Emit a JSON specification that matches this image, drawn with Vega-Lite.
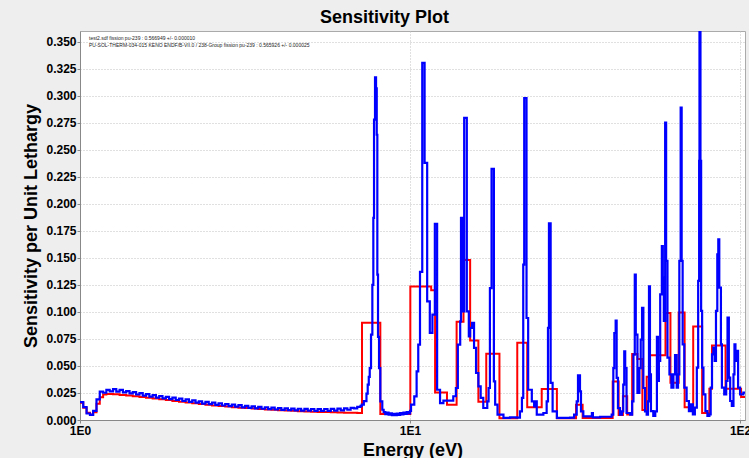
{
  "$schema": "https://vega.github.io/schema/vega-lite/v6.json",
  "autosize": {"type": "none"},
  "padding": {"left": 80, "top": 31, "right": 4, "bottom": 38},
  "width": 665,
  "height": 389,
  "background": "#eeeeee",
  "title": {"text": "Sensitivity Plot", "fontSize": 18, "font": "Liberation Sans", "fontWeight": "bold", "anchor": "middle", "offset": 4, "dx": -28, "color": "black"},
  "config": {
    "view": {"fill": "white", "stroke": "#aaaaaa", "strokeWidth": 1},
    "axis": {"labelFont": "Liberation Sans", "titleFont": "Liberation Sans", "labelFontWeight": "bold", "titleFontWeight": "bold", "labelFontSize": 12, "titleFontSize": 18, "labelColor": "black", "titleColor": "black", "gridColor": "#c0c0c0", "gridDash": [1, 2], "gridWidth": 1, "domainColor": "#888888", "tickColor": "#888888", "tickSize": 3},
    "legend": {"orient": "top-left", "offset": 4, "padding": 0, "labelFont": "Liberation Sans", "labelFontSize": 5, "labelColor": "#222222", "labelLimit": 500, "symbolSize": 0, "symbolStrokeWidth": 0, "labelOffset": 0, "rowPadding": 1.5, "title": null}
  },
  "datasets": {
    "blue": [
      {"e":1.000,"v":0.0165},{"e":1.023,"v":0.0120},{"e":1.047,"v":0.0060},{"e":1.072,"v":0.0048},{"e":1.096,"v":0.0085},{"e":1.122,"v":0.0190},{"e":1.148,"v":0.0262},{"e":1.175,"v":0.0252},{"e":1.202,"v":0.0278},{"e":1.230,"v":0.0265},{"e":1.259,"v":0.0285},{"e":1.288,"v":0.0262},{"e":1.318,"v":0.0278},{"e":1.349,"v":0.0255},{"e":1.380,"v":0.0268},{"e":1.413,"v":0.0246},{"e":1.445,"v":0.0258},{"e":1.479,"v":0.0236},{"e":1.514,"v":0.0248},{"e":1.549,"v":0.0226},{"e":1.585,"v":0.0240},{"e":1.622,"v":0.0216},{"e":1.660,"v":0.0230},{"e":1.698,"v":0.0207},{"e":1.738,"v":0.0222},{"e":1.778,"v":0.0200},{"e":1.820,"v":0.0214},{"e":1.862,"v":0.0193},{"e":1.905,"v":0.0207},{"e":1.950,"v":0.0185},{"e":1.995,"v":0.0198},{"e":2.042,"v":0.0176},{"e":2.089,"v":0.0190},{"e":2.138,"v":0.0168},{"e":2.188,"v":0.0181},{"e":2.239,"v":0.0160},{"e":2.291,"v":0.0173},{"e":2.344,"v":0.0152},{"e":2.399,"v":0.0167},{"e":2.455,"v":0.0147},{"e":2.512,"v":0.0160},{"e":2.570,"v":0.0140},{"e":2.630,"v":0.0154},{"e":2.692,"v":0.0134},{"e":2.754,"v":0.0148},{"e":2.818,"v":0.0128},{"e":2.884,"v":0.0142},{"e":2.951,"v":0.0123},{"e":3.020,"v":0.0137},{"e":3.090,"v":0.0117},{"e":3.162,"v":0.0131},{"e":3.236,"v":0.0113},{"e":3.311,"v":0.0126},{"e":3.388,"v":0.0108},{"e":3.467,"v":0.0122},{"e":3.548,"v":0.0104},{"e":3.631,"v":0.0118},{"e":3.715,"v":0.0100},{"e":3.802,"v":0.0114},{"e":3.890,"v":0.0097},{"e":3.981,"v":0.0111},{"e":4.074,"v":0.0094},{"e":4.169,"v":0.0108},{"e":4.266,"v":0.0091},{"e":4.365,"v":0.0106},{"e":4.467,"v":0.0089},{"e":4.571,"v":0.0104},{"e":4.677,"v":0.0087},{"e":4.786,"v":0.0103},{"e":4.898,"v":0.0086},{"e":5.012,"v":0.0102},{"e":5.129,"v":0.0085},{"e":5.248,"v":0.0101},{"e":5.370,"v":0.0084},{"e":5.495,"v":0.0102},{"e":5.623,"v":0.0085},{"e":5.754,"v":0.0103},{"e":5.888,"v":0.0086},{"e":6.026,"v":0.0105},{"e":6.166,"v":0.0090},{"e":6.310,"v":0.0108},{"e":6.457,"v":0.0095},{"e":6.607,"v":0.0112},{"e":6.761,"v":0.0108},{"e":6.918,"v":0.0122},{"e":7.079,"v":0.0130},
      {"e":7.14,"v":0.0142},{"e":7.244,"v":0.0175},{"e":7.379,"v":0.0245},{"e":7.443,"v":0.0327},{"e":7.499,"v":0.040},{"e":7.549,"v":0.048},{"e":7.617,"v":0.079},{"e":7.688,"v":0.125},{"e":7.741,"v":0.187},{"e":7.779,"v":0.278},{"e":7.833,"v":0.317},{"e":7.889,"v":0.307},{"e":7.927,"v":0.264},{"e":7.960,"v":0.1345},{"e":7.998,"v":0.077},{"e":8.055,"v":0.048},{"e":8.128,"v":0.0172},{"e":8.241,"v":0.0095},
      {"e":8.318,"v":0.0072},{"e":8.414,"v":0.0055},{"e":8.511,"v":0.0068},{"e":8.610,"v":0.0050},{"e":8.710,"v":0.0062},{"e":8.810,"v":0.0046},{"e":8.913,"v":0.0058},{"e":9.016,"v":0.0044},{"e":9.120,"v":0.0060},{"e":9.226,"v":0.0048},{"e":9.333,"v":0.0064},{"e":9.441,"v":0.0052},{"e":9.550,"v":0.0068},{"e":9.661,"v":0.0056},{"e":9.772,"v":0.0074},{"e":9.886,"v":0.0062},{"e":10.0,"v":0.0085},
      {"e":10.07,"v":0.0142},{"e":10.30,"v":0.0219},{"e":10.47,"v":0.045},{"e":10.59,"v":0.0697},{"e":10.72,"v":0.137},{"e":10.89,"v":0.3305},{"e":11.07,"v":0.238},{"e":11.27,"v":0.1098},{"e":11.48,"v":0.0806},{"e":11.69,"v":0.0975},{"e":11.89,"v":0.1815},{"e":12.08,"v":0.028},{"e":12.33,"v":0.0157},{"e":12.62,"v":0.0179},{"e":13.06,"v":0.018},{"e":13.52,"v":0.022},
      {"e":13.77,"v":0.0296},{"e":13.96,"v":0.0697},{"e":14.19,"v":0.0913},{"e":14.27,"v":0.187},{"e":14.45,"v":0.1006},{"e":14.59,"v":0.2796},{"e":14.86,"v":0.1006},{"e":15.07,"v":0.0774},{"e":15.21,"v":0.0852},{"e":15.42,"v":0.0898},{"e":15.63,"v":0.0667},{"e":15.85,"v":0.0435},{"e":16.11,"v":0.0311},{"e":16.37,"v":0.0204},{"e":16.67,"v":0.0111},{"e":17.14,"v":0.0172},{"e":17.30,"v":0.0296},{"e":17.46,"v":0.122},{"e":17.66,"v":0.2324},{"e":17.95,"v":0.0357},{"e":18.11,"v":0.0142},{"e":18.41,"v":0.0049},{"e":19.19,"v":0.0019},{"e":20.09,"v":0.0024},{"e":21.04,"v":0.0022},{"e":21.53,"v":0.008},{"e":21.83,"v":0.0204},{"e":22.03,"v":0.1438},{"e":22.18,"v":0.298},{"e":22.54,"v":0.0944},{"e":22.80,"v":0.028},{"e":23.39,"v":0.0172},{"e":23.77,"v":0.0126},{"e":23.99,"v":0.0172},{"e":24.21,"v":0.0049},{"e":25.35,"v":0.0065},{"e":25.94,"v":0.0172},{"e":26.18,"v":0.0852},{"e":26.36,"v":0.182},{"e":26.67,"v":0.0343},{"e":27.04,"v":0.008},{"e":27.86,"v":0.0019},{"e":30.55,"v":0.0022},{"e":31.41,"v":0.0049},{"e":31.99,"v":0.0172},{"e":32.28,"v":0.0413},{"e":32.73,"v":0.0265},{"e":32.96,"v":0.008},{"e":33.50,"v":0.0034},{"e":35.56,"v":0.0065},{"e":35.81,"v":0.0024},{"e":37.67,"v":0.003},{"e":40.83,"v":0.0049},{"e":41.30,"v":0.048},{"e":41.59,"v":0.0805},{"e":41.98,"v":0.092},{"e":42.27,"v":0.0389},{"e":42.66,"v":0.011},{"e":43.25,"v":0.0049},{"e":43.85,"v":0.008},{"e":44.26,"v":0.0327},{"e":44.57,"v":0.0635},{"e":44.87,"v":0.048},{"e":45.29,"v":0.0065},{"e":46.45,"v":0.0049},{"e":47.10,"v":0.0172},{"e":47.53,"v":0.0605},{"e":47.97,"v":0.1345},{"e":48.31,"v":0.079},{"e":48.87,"v":0.025},{"e":49.55,"v":0.048},{"e":50.00,"v":0.0743},{"e":50.47,"v":0.1037},{"e":50.93,"v":0.0296},{"e":51.52,"v":0.008},{"e":52.12,"v":0.0049},{"e":52.60,"v":0.0172},{"e":52.97,"v":0.1237},{"e":53.33,"v":0.0422},{"e":53.70,"v":0.0083},{"e":54.58,"v":0.0037},{"e":55.34,"v":0.008},{"e":55.98,"v":0.077},{"e":56.36,"v":0.0361},{"e":56.75,"v":0.0546},{"e":57.28,"v":0.1163},{"e":57.94,"v":0.161},{"e":58.34,"v":0.1318},{"e":58.75,"v":0.0917},{"e":59.29,"v":0.2753},{"e":59.70,"v":0.1472},{"e":60.26,"v":0.0577},{"e":61.09,"v":0.0422},{"e":61.94,"v":0.0299},{"e":62.81,"v":0.0422},{"e":63.53,"v":0.06},{"e":64.27,"v":0.0299},{"e":64.86,"v":0.0422},{"e":65.46,"v":0.1472},{"e":66.07,"v":0.2892},{"e":66.53,"v":0.1472},{"e":66.99,"v":0.07},{"e":67.76,"v":0.0299},{"e":68.87,"v":0.0176},{"e":69.98,"v":0.0083},{"e":70.96,"v":0.0145},{"e":71.94,"v":0.0052},{"e":72.95,"v":0.0114},{"e":73.96,"v":0.0484},{"e":74.65,"v":0.1287},{"e":75.16,"v":0.2398},{"e":75.34,"v":0.37},{"e":75.86,"v":0.2398},{"e":76.21,"v":0.1009},{"e":76.74,"v":0.0484},{"e":77.45,"v":0.0237},{"e":78.52,"v":0.0083},{"e":79.62,"v":0.0037},{"e":80.72,"v":0.0052},{"e":81.47,"v":0.0299},{"e":82.22,"v":0.0607},{"e":82.99,"v":0.0669},{"e":83.75,"v":0.0546},{"e":84.53,"v":0.1009},{"e":85.31,"v":0.1533},{"e":85.90,"v":0.1672},{"e":86.50,"v":0.1225},{"e":87.50,"v":0.07},{"e":88.10,"v":0.0299},{"e":89.54,"v":0.0237},{"e":90.78,"v":0.0361},{"e":91.62,"v":0.0947},{"e":92.47,"v":0.0392},{"e":93.33,"v":0.0176},{"e":94.41,"v":0.013},{"e":95.50,"v":0.0422},{"e":96.16,"v":0.07},{"e":96.83,"v":0.0546},{"e":97.72,"v":0.0639},{"e":98.63,"v":0.0299},{"e":100,"v":0.0237},{"e":102.3,"v":0.0253},{"e":103.5,"v":0.0253}
    ],
    "red": [
      {"e":1.000,"v":0.016},{"e":1.023,"v":0.0114},{"e":1.047,"v":0.0068},{"e":1.072,"v":0.005},{"e":1.096,"v":0.0072},{"e":1.122,"v":0.015},{"e":1.148,"v":0.021},{"e":1.175,"v":0.0235},{"e":1.202,"v":0.024},{"e":1.259,"v":0.0238},{"e":1.318,"v":0.0232},{"e":1.380,"v":0.0226},{"e":1.445,"v":0.0219},{"e":1.514,"v":0.0212},{"e":1.585,"v":0.0205},{"e":1.660,"v":0.0198},{"e":1.738,"v":0.0191},{"e":1.820,"v":0.0184},{"e":1.905,"v":0.0176},{"e":1.995,"v":0.0168},{"e":2.089,"v":0.0161},{"e":2.188,"v":0.0154},{"e":2.291,"v":0.0147},{"e":2.399,"v":0.0141},{"e":2.512,"v":0.0135},{"e":2.630,"v":0.0129},{"e":2.754,"v":0.0124},{"e":2.884,"v":0.0119},{"e":3.020,"v":0.0114},{"e":3.162,"v":0.0110},{"e":3.311,"v":0.0106},{"e":3.467,"v":0.0102},{"e":3.631,"v":0.0098},{"e":3.802,"v":0.0094},{"e":3.981,"v":0.0091},{"e":4.169,"v":0.0088},{"e":4.365,"v":0.0085},{"e":4.571,"v":0.0082},{"e":4.786,"v":0.0079},{"e":5.012,"v":0.0077},{"e":5.248,"v":0.0075},{"e":5.495,"v":0.0073},{"e":5.754,"v":0.0071},{"e":6.026,"v":0.0069},{"e":6.310,"v":0.0067},{"e":6.607,"v":0.0066},{"e":6.918,"v":0.0065},
      {"e":7.153,"v":0.090},{"e":8.128,"v":0.0056},{"e":10.02,"v":0.1235},{"e":11.59,"v":0.120},{"e":11.91,"v":0.0254},{"e":12.94,"v":0.014},{"e":13.84,"v":0.091},{"e":14.52,"v":0.148},{"e":15.21,"v":0.0735},{"e":16.11,"v":0.017},{"e":17.02,"v":0.0614},{"e":18.66,"v":0.0017},{"e":21.13,"v":0.0714},{"e":22.65,"v":0.0118},{"e":25.06,"v":0.0286},{"e":27.86,"v":0.0017},{"e":31.84,"v":0.014},{"e":33.34,"v":0.0018},{"e":41.12,"v":0.0357},{"e":42.86,"v":0.0047},{"e":44.16,"v":0.022},{"e":45.50,"v":0.005},{"e":47.10,"v":0.061},{"e":48.87,"v":0.0565},{"e":50.58,"v":0.0093},{"e":52.12,"v":0.040},{"e":53.33,"v":0.060},{"e":59.43,"v":0.099},{"e":61.52,"v":0.0344},{"e":65.16,"v":0.0996},{"e":67.92,"v":0.0118},{"e":72.11,"v":0.0866},{"e":76.74,"v":0.0065},{"e":80.72,"v":0.0289},{"e":82.22,"v":0.069},{"e":90.37,"v":0.029},{"e":100.7,"v":0.0214},{"e":103.5,"v":0.0214}
    ]
  },
  "encoding": {
    "x": {"field": "e", "type": "quantitative", "scale": {"type": "log", "domain": [1, 103.5], "nice": false},
      "axis": {"values": [1, 10, 100], "labelExpr": "datum.value < 5 ? '1E0' : (datum.value < 50 ? '1E1' : '1E2')", "title": "Energy (eV)", "labelPadding": 2, "titlePadding": 5, "labelOverlap": false, "labelFlush": false, "grid": true}},
    "y": {"field": "v", "type": "quantitative", "scale": {"domain": [0, 0.36], "nice": false, "zero": true},
      "axis": {"values": [0, 0.025, 0.05, 0.075, 0.1, 0.125, 0.15, 0.175, 0.2, 0.225, 0.25, 0.275, 0.3, 0.325, 0.35], "format": ".3f", "title": "Sensitivity per Unit Lethargy", "labelPadding": 1, "titlePadding": 5, "grid": true}}
  },
  "layer": [
    {
      "data": {"name": "red"},
      "mark": {"type": "line", "interpolate": "step-after", "strokeWidth": 2, "clip": true},
      "encoding": {
        "color": {"datum": "PU-SOL-THERM-034-015 KENO ENDF/B-VII.0 / 238-Group fission pu-239 : 0.565926 +/- 0.000025", "type": "nominal",
          "scale": {"domain": ["test2.sdf fission pu-239 : 0.566949 +/- 0.000010", "PU-SOL-THERM-034-015 KENO ENDF/B-VII.0 / 238-Group fission pu-239 : 0.565926 +/- 0.000025"], "range": ["#0000ff", "#ff0000"]}}
      }
    },
    {
      "data": {"name": "blue"},
      "mark": {"type": "line", "interpolate": "step-after", "strokeWidth": 2.2, "clip": true},
      "encoding": {
        "color": {"datum": "test2.sdf fission pu-239 : 0.566949 +/- 0.000010", "type": "nominal"}
      }
    }
  ]
}
